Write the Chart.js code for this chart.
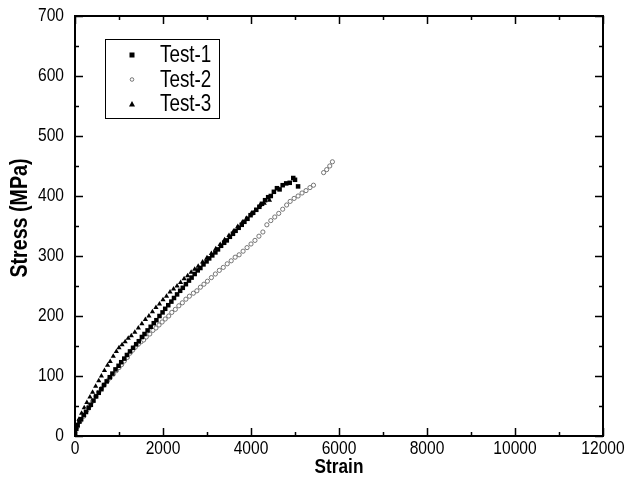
<!DOCTYPE html>
<html>
<head>
<meta charset="utf-8">
<script src="https://cdn.jsdelivr.net/npm/chart.js@4.4.1/dist/chart.umd.min.js"></script>
<style>
  html, body { margin: 0; padding: 0; background: #fff; }
  #wrap { width: 638px; height: 494px; position: relative; }
</style>
</head>
<body>
<div id="wrap"><canvas id="chart"></canvas></div>
<script>
// stress-strain data (strain, MPa)
const test1Strain = [0, 30, 60, 100, 140, 200, 250, 310, 360, 420, 480, 540, 600, 660, 720, 790, 850, 920, 990, 1050, 1120, 1180, 1250, 1320, 1390, 1450, 1520, 1580, 1650, 1720, 1790, 1850, 1920, 1990, 2050, 2120, 2190, 2250, 2320, 2390, 2450, 2520, 2590, 2650, 2720, 2790, 2850, 2920, 2990, 3050, 3120, 3190, 3250, 3320, 3390, 3450, 3520, 3590, 3650, 3720, 3790, 3850, 3920, 3990, 4050, 4120, 4190, 4250, 4320, 4390, 4450, 4520, 4590, 4650, 4720, 4800, 4880, 4960, 5000, 5070];
const test1Stress = [5, 12, 18, 24, 28, 35, 40, 47, 52, 59, 66, 72, 78, 85, 91, 98, 104, 111, 117, 123, 129, 135, 141, 147, 153, 158, 165, 170, 176, 182, 188, 193, 200, 206, 212, 218, 224, 230, 236, 242, 247, 253, 259, 264, 270, 276, 280, 286, 291, 296, 301, 306, 311, 317, 322, 326, 332, 337, 342, 347, 352, 357, 362, 368, 372, 377, 382, 387, 393, 398, 400, 407, 413, 411, 418, 421, 422, 430, 427, 416];

const test2Strain = [0, 50, 120, 200, 270, 330, 400, 470, 540, 600, 660, 740, 800, 870, 940, 1000, 1060, 1120, 1190, 1250, 1310, 1370, 1440, 1500, 1560, 1620, 1700, 1770, 1840, 1910, 1980, 2050, 2130, 2200, 2280, 2360, 2440, 2520, 2600, 2690, 2770, 2850, 2930, 3010, 3100, 3190, 3280, 3370, 3460, 3550, 3640, 3730, 3820, 3910, 4000, 4090, 4180, 4270, 4360, 4450, 4540, 4630, 4720, 4810, 4890, 4980, 5070, 5160, 5250, 5340, 5420, 5650, 5720, 5790, 5850];
const test2Stress = [3, 15, 25, 33, 43, 50, 58, 66, 73, 79, 85, 92, 97, 103, 109, 114, 119, 125, 131, 138, 143, 148, 153, 157, 160, 165, 170, 176, 180, 185, 190, 195, 200, 206, 211, 217, 222, 228, 233, 238, 242, 248, 253, 258, 264, 270, 276, 281, 287, 292, 298, 302, 308, 314, 320, 326, 333, 340, 352, 359, 365, 371, 378, 385, 391, 396, 400, 405, 409, 414, 418, 439, 444, 450, 457];

const test3Strain = [0, 40, 90, 150, 210, 270, 340, 400, 470, 540, 600, 670, 740, 800, 870, 940, 1000, 1070, 1140, 1210, 1280, 1360, 1440, 1520, 1600, 1680, 1760, 1840, 1920, 2000, 2080, 2160, 2240, 2320, 2400, 2480, 2560, 2640, 2720, 2800, 2900, 3000, 3100, 3200, 3300, 3400, 3500, 3600, 3700, 3800, 3900, 4000, 4100, 4200, 4300, 4420];
const test3Stress = [8, 18, 28, 38, 47, 56, 65, 73, 83, 92, 100, 109, 118, 124, 133, 141, 147, 152, 157, 163, 167, 173, 180, 187, 194, 200, 207, 214, 220, 227, 233, 240, 245, 250, 256, 262, 267, 273, 278, 283, 290, 297, 304, 312, 319, 327, 334, 341, 349, 356, 363, 370, 376, 384, 388, 393];

const seriesLabels = ["Test-1", "Test-2", "Test-3"];
const xTickLabels = [0, 2000, 4000, 6000, 8000, 10000, 12000];
const yTickLabels = [0, 100, 200, 300, 400, 500, 600, 700];

const FONT = "'Liberation Sans', Arial, sans-serif";
const SQUEEZE = 0.82; // original figure uses a condensed face

function toPoints(xs, ys) {
  return xs.map((x, i) => ({ x: x, y: ys[i] }));
}

// draw text squeezed horizontally, optionally rotated
function narrowText(ctx, text, x, y, size, opts = {}) {
  ctx.save();
  ctx.translate(x, y);
  if (opts.rotate) ctx.rotate(opts.rotate);
  ctx.scale(SQUEEZE, 1);
  ctx.font = (opts.bold ? "bold " : "") + size + "px " + FONT;
  ctx.textAlign = opts.align || "center";
  ctx.textBaseline = "middle";
  ctx.fillStyle = "#000";
  ctx.fillText(text, 0, 0);
  ctx.restore();
}

const styles = [
  { pointStyle: "rect", radius: 3.2, bg: "#000", border: "#000", bw: 0 },
  { pointStyle: "circle", radius: 2.1, bg: "#fff", border: "#555", bw: 0.8 },
  { pointStyle: "triangle", radius: 3, bg: "#000", border: "#000", bw: 0 },
];

const datasets = [
  toPoints(test1Strain, test1Stress),
  toPoints(test2Strain, test2Stress),
  toPoints(test3Strain, test3Stress),
].map((pts, i) => ({
  label: seriesLabels[i],
  data: pts,
  showLine: false,
  pointStyle: styles[i].pointStyle,
  pointRadius: styles[i].radius,
  pointBackgroundColor: styles[i].bg,
  pointBorderColor: styles[i].border,
  pointBorderWidth: styles[i].bw,
}));

// inward ticks on all four sides, frame, labels and legend box
const framePlugin = {
  id: "frame",
  afterDraw(chart) {
    const ctx = chart.ctx;
    const a = chart.chartArea;
    const xs = chart.scales.x, ys = chart.scales.y;
    ctx.save();
    ctx.strokeStyle = "#000";
    ctx.lineWidth = 1.5;
    ctx.beginPath();
    xs.ticks.forEach((t) => {
      const px = Math.round(xs.getPixelForValue(t.value)) + 0.5;
      const len = xTickLabels.includes(t.value) ? 8 : 4;
      ctx.moveTo(px, a.bottom); ctx.lineTo(px, a.bottom - len);
      ctx.moveTo(px, a.top); ctx.lineTo(px, a.top + len);
    });
    ys.ticks.forEach((t) => {
      const py = Math.round(ys.getPixelForValue(t.value)) + 0.5;
      const len = yTickLabels.includes(t.value) ? 8 : 4;
      ctx.moveTo(a.left, py); ctx.lineTo(a.left + len, py);
      ctx.moveTo(a.right, py); ctx.lineTo(a.right - len, py);
    });
    ctx.stroke();
    ctx.lineWidth = 2;
    ctx.strokeRect(a.left, a.top, a.right - a.left, a.bottom - a.top);

    // tick labels
    xTickLabels.forEach((v) => narrowText(ctx, String(v), xs.getPixelForValue(v), a.bottom + 13, 19));
    yTickLabels.forEach((v) => narrowText(ctx, String(v), a.left - 11, ys.getPixelForValue(v), 19, { align: "right" }));
    // axis titles
    narrowText(ctx, "Strain", (a.left + a.right) / 2, a.bottom + 31, 21, { bold: true });
    narrowText(ctx, "Stress (MPa)", 20, 218, 24, { bold: true, rotate: -Math.PI / 2 });

    // legend
    const lx = 105, ly = 39, lw = 114, lh = 79;
    ctx.lineWidth = 1;
    ctx.strokeRect(lx + 0.5, ly + 0.5, lw, lh);
    chart.data.datasets.forEach((ds, i) => {
      const cy = ly + 16 + i * 24.5;
      const mx = lx + 27;
      ctx.fillStyle = ds.pointBackgroundColor;
      ctx.strokeStyle = ds.pointBorderColor;
      ctx.lineWidth = 0.8;
      ctx.beginPath();
      if (ds.pointStyle === "rect") {
        ctx.fillRect(mx - 2.5, cy - 2.5, 5, 5);
      } else if (ds.pointStyle === "circle") {
        ctx.arc(mx, cy, 1.8, 0, Math.PI * 2);
        ctx.stroke();
      } else {
        ctx.moveTo(mx, cy - 3); ctx.lineTo(mx + 3, cy + 2.5); ctx.lineTo(mx - 3, cy + 2.5);
        ctx.closePath(); ctx.fill();
      }
      narrowText(ctx, ds.label, lx + 55, cy + 1, 23, { align: "left" });
    });
    ctx.restore();
  },
};

new Chart(document.getElementById("chart"), {
  type: "scatter",
  data: { datasets: datasets },
  options: {
    responsive: true,
    maintainAspectRatio: false,
    animation: false,
    layout: { padding: { top: 16, right: 35, left: 0, bottom: 0 } },
    plugins: { legend: { display: false }, tooltip: { enabled: false } },
    scales: {
      x: {
        type: "linear",
        min: 0,
        max: 12000,
        ticks: { stepSize: 1000, autoSkip: false, display: false },
        grid: { display: false },
        border: { display: false },
        afterFit: (s) => { s.height = 58; },
      },
      y: {
        type: "linear",
        min: 0,
        max: 700,
        ticks: { stepSize: 50, autoSkip: false, display: false },
        grid: { display: false },
        border: { display: false },
        afterFit: (s) => { s.width = 75; },
      },
    },
  },
  plugins: [framePlugin],
});
</script>
</body>
</html>
